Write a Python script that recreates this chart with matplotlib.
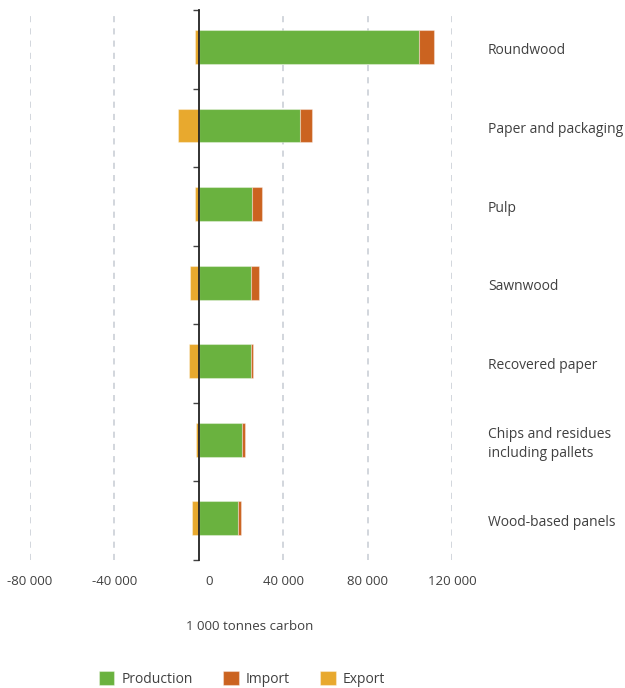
import matplotlib
matplotlib.use("Agg")
import matplotlib.pyplot as plt
import matplotlib.transforms as mtransforms
import numpy as np
from matplotlib.ticker import FuncFormatter, FixedLocator

categories = ["Roundwood", "Paper and packaging", "Pulp", "Sawnwood",
              "Recovered paper", "Chips and residues\nincluding pallets",
              "Wood-based panels"]
production = [104300, 48200, 25400, 24800, 24900, 20500, 18600]
imports = [7000, 5500, 4400, 3900, 800, 1400, 1600]
exports = [-1700, -9800, -1600, -4100, -4700, -1300, -3200]
xticks = [-80000, -40000, 0, 40000, 80000, 120000]
series_names = ["Production", "Import", "Export"]
colors = ["#6AB23F", "#CB6320", "#E8A92E"]
text_color = "#404040"

plt.rcParams['font.family'] = ['Open Sans', 'DejaVu Sans']

fig = plt.figure(figsize=(6.25, 6.88), dpi=100)
ax = fig.add_axes([29.9 / 625, 1 - 560 / 688, 422 / 625, 550 / 688])

y = np.arange(len(categories))
yb = y - 0.03
h = 0.43
ec = dict(edgecolor=(1, 1, 1, 0.35), linewidth=0.8)
b1 = ax.barh(yb, production, height=h, color=colors[0], label=series_names[0], **ec, zorder=3)
b2 = ax.barh(yb, imports, left=production, height=h, color=colors[1], label=series_names[1], **ec, zorder=3)
b3 = ax.barh(yb, exports, height=h, color=colors[2], label=series_names[2], **ec, zorder=3)

ax.set_xlim(-80000, 120000)
ax.set_ylim(len(categories) - 0.5, -0.5)

for s in ["top", "right", "bottom"]:
    ax.spines[s].set_visible(False)
ax.spines["left"].set_position(("data", 0))
ax.spines["left"].set_color("#222222")
ax.spines["left"].set_linewidth(1.3)
ax.spines["left"].set_zorder(4)

ax.yaxis.set_major_locator(FixedLocator(np.arange(-0.5, len(categories), 1.0)))
ax.set_yticklabels([])
ax.tick_params(axis="y", direction="out", length=4, width=1, color="#444444")

ax.set_xticks(xticks)
ax.xaxis.set_major_formatter(FuncFormatter(lambda v, p: f"{int(v):,}".replace(",", " ")))
ax.tick_params(axis="x", length=0, pad=11, labelsize=9.5, labelcolor=text_color)

# the reference places the "0" label a little to the right of the zero line
fig.canvas.draw()
for tick in ax.xaxis.get_major_ticks():
    if tick.get_loc() == 0:
        off = mtransforms.ScaledTranslation(10 / 100, 0, fig.dpi_scale_trans)
        tick.label1.set_transform(tick.label1.get_transform() + off)

for xv in xticks:
    if xv != 0:
        ax.axvline(xv, color="#C6CBD3", linestyle=(0, (4, 4)), linewidth=1.1, zorder=1)

trans = ax.get_yaxis_transform()
for yi, cat in zip(y, categories):
    ax.text(1.085, yi + 0.02, cat, transform=trans, ha="left", va="center",
            fontsize=10, color=text_color, linespacing=1.4)

fig.text(250 / 625, 1 - 627 / 688, "1 000 tonnes carbon", ha="center", va="center",
         fontsize=9.5, color=text_color)

leg = fig.legend(handles=[b1, b2, b3], labels=series_names, loc="center",
                 bbox_to_anchor=(242 / 625, 1 - 679 / 688), ncol=3, frameon=False,
                 handlelength=1.1, handleheight=1.1, handletextpad=0.5,
                 columnspacing=2.2, fontsize=10)
for t in leg.get_texts():
    t.set_color(text_color)

fig.savefig("out.png", dpi=100)
